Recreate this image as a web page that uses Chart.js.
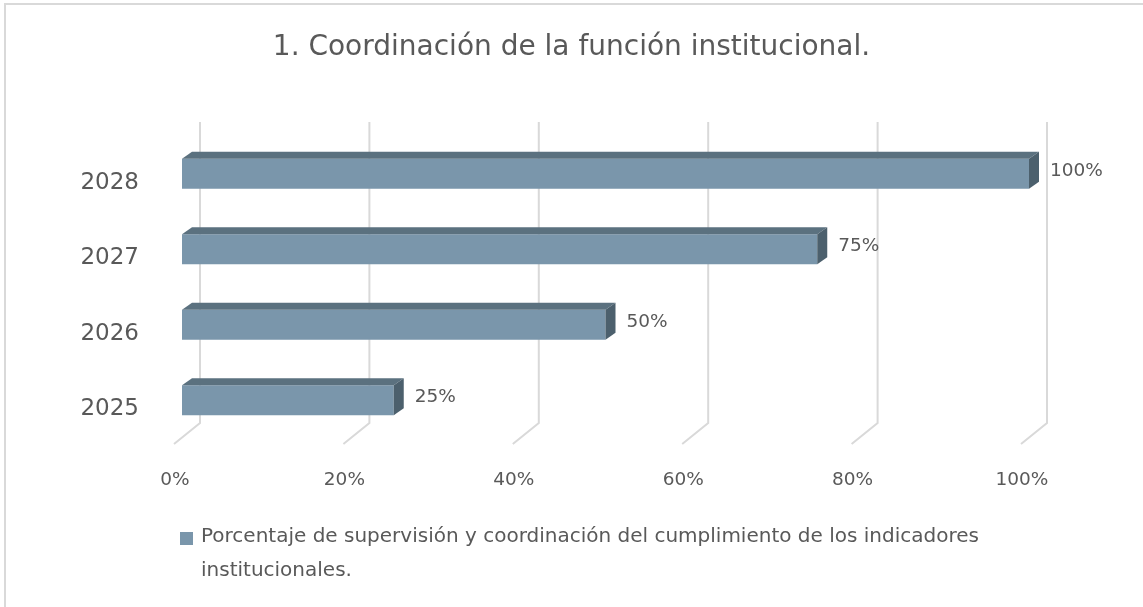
<!DOCTYPE html>
<html>
<head>
<meta charset="utf-8">
<script src="https://cdn.jsdelivr.net/npm/chart.js@4.4.1/dist/chart.umd.min.js"></script>
<style>
  body { margin: 0; background: #fff; overflow: hidden; }
  #marco { position: absolute; left: 4px; top: 3px; width: 1200px; height: 700px; border: 2px solid #d9d9d9; }
  canvas { position: absolute; left: 0; top: 0; }
</style>
</head>
<body>
<div id="marco"></div>
<canvas id="graficoCoord" width="1143" height="607"></canvas>
<script>
// datos
const anios = ['2028', '2027', '2026', '2025'];
const porcentajes = [100, 75, 50, 25];
const ticksX = [0, 20, 40, 60, 80, 100];
const nombreSerie = 'Porcentaje de supervisión y coordinación del cumplimiento de los indicadores institucionales.';
const titulo = '1. Coordinación de la función institucional.';

const FUENTE = "'DejaVu Sans', sans-serif";
const GRIS_TEXTO = '#595959';
const FRENTE = '#7a96ab';
const TECHO = '#5b717f';
const LADO = '#4c606d';

// título centrado en todo el ancho del lienzo
const tituloCentrado = {
  id: 'tituloCentrado',
  afterDraw(chart) {
    const { ctx, width } = chart;
    ctx.save();
    ctx.fillStyle = GRIS_TEXTO;
    ctx.font = '28px ' + FUENTE;
    ctx.textAlign = 'center';
    ctx.textBaseline = 'middle';
    ctx.fillText(titulo, width / 2, 48);
    ctx.restore();
  }
};

// rejilla en perspectiva (pared del fondo + suelo)
const rejilla3d = {
  id: 'rejilla3d',
  beforeDatasetsDraw(chart) {
    const { ctx, chartArea, scales } = chart;
    ctx.save();
    ctx.strokeStyle = '#d9d9d9';
    ctx.lineWidth = 2;
    ticksX.forEach(v => {
      const px = scales.x.getPixelForValue(v);
      ctx.beginPath();
      ctx.moveTo(px + 18, chartArea.top - 14);
      ctx.lineTo(px + 18, chartArea.bottom - 15);
      ctx.lineTo(px - 8, chartArea.bottom + 6);
      ctx.stroke();
    });
    ctx.restore();
  }
};

// caras superior y lateral de las barras, y etiquetas de valor
const barras3d = {
  id: 'barras3d',
  afterDatasetsDraw(chart) {
    const { ctx } = chart;
    const dx = 10, dy = 7;
    ctx.save();
    chart.getDatasetMeta(0).data.forEach((el, i) => {
      const x0 = el.base, x1 = el.x;
      const yTop = el.y - el.height / 2, yBot = el.y + el.height / 2;
      ctx.fillStyle = TECHO;
      ctx.beginPath();
      ctx.moveTo(x0, yTop);
      ctx.lineTo(x0 + dx, yTop - dy);
      ctx.lineTo(x1 + dx, yTop - dy);
      ctx.lineTo(x1, yTop);
      ctx.closePath();
      ctx.fill();
      ctx.fillStyle = LADO;
      ctx.beginPath();
      ctx.moveTo(x1, yTop);
      ctx.lineTo(x1 + dx, yTop - dy);
      ctx.lineTo(x1 + dx, yBot - dy);
      ctx.lineTo(x1, yBot);
      ctx.closePath();
      ctx.fill();

      ctx.fillStyle = GRIS_TEXTO;
      ctx.font = '18.5px ' + FUENTE;
      ctx.textAlign = 'left';
      ctx.textBaseline = 'middle';
      ctx.fillText(porcentajes[i] + '%', x1 + 21, el.y - 3);
    });
    ctx.restore();
  }
};

// leyenda con texto en dos líneas
const leyenda = {
  id: 'leyendaMultilinea',
  afterDraw(chart) {
    const { ctx, chartArea } = chart;
    const top = chartArea.bottom + 94;
    ctx.save();
    ctx.fillStyle = FRENTE;
    ctx.fillRect(180, top, 13, 13);
    ctx.font = '20px ' + FUENTE;
    ctx.fillStyle = GRIS_TEXTO;
    ctx.textBaseline = 'middle';
    const palabras = nombreSerie.split(' ');
    const lineas = [];
    let linea = '';
    palabras.forEach(p => {
      const prueba = linea ? linea + ' ' + p : p;
      if (ctx.measureText(prueba).width > 840 && linea) {
        lineas.push(linea);
        linea = p;
      } else {
        linea = prueba;
      }
    });
    lineas.push(linea);
    lineas.forEach((l, k) => ctx.fillText(l, 201, top + 5 + k * 34));
    ctx.restore();
  }
};

const config = {
  type: 'bar',
  data: {
    labels: anios,
    datasets: [{
      label: nombreSerie,
      data: porcentajes,
      backgroundColor: FRENTE,
      borderWidth: 0,
      barPercentage: 0.4,
      categoryPercentage: 1
    }]
  },
  options: {
    indexAxis: 'y',
    responsive: false,
    animation: false,
    devicePixelRatio: 1,
    layout: { padding: { left: 0, right: 114, top: 136, bottom: 0 } },
    plugins: {
      legend: { display: false },
      tooltip: { enabled: false },
      title: { display: false }
    },
    scales: {
      x: {
        min: 0,
        max: 100,
        grid: { display: false },
        border: { display: false },
        ticks: {
          stepSize: 20,
          padding: 23,
          labelOffset: -7,
          color: GRIS_TEXTO,
          font: { family: FUENTE, size: 18.5 },
          callback: v => v + '%'
        },
        afterFit: s => { s.height = 169; }
      },
      y: {
        grid: { display: false },
        border: { display: false },
        ticks: {
          padding: 35,
          labelOffset: 9,
          color: GRIS_TEXTO,
          font: { family: FUENTE, size: 23 }
        },
        afterFit: s => { s.width = 182; }
      }
    }
  },
  plugins: [rejilla3d, barras3d, leyenda, tituloCentrado]
};

const grafico = new Chart(document.getElementById('graficoCoord'), config);
</script>
</body>
</html>
